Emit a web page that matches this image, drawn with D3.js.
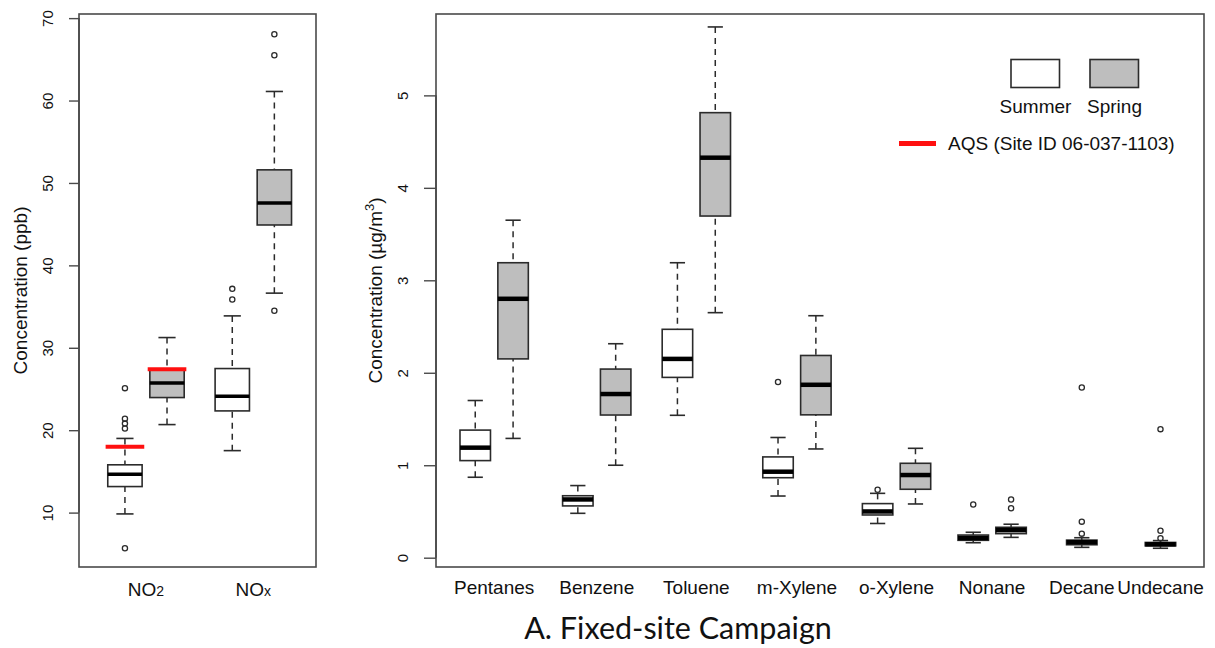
<!DOCTYPE html>
<html>
<head>
<meta charset="utf-8">
<script src="https://cdn.jsdelivr.net/npm/d3@7"></script>
<style>
  html, body { margin: 0; padding: 0; background: #ffffff; }
  svg { display: block; }
  text { font-family: "Liberation Sans", Arial, Helvetica, sans-serif; fill: #111; }
</style>
</head>
<body>
<script>
// ---------------- DATA ----------------
// Five-number summaries: [lower whisker, Q1, median, Q3, upper whisker]
const leftCategories = ["NO2", "NOx"];
const leftSummer = [
  [9.84, 13.16, 14.66, 15.8, 19.0],
  [17.52, 22.34, 24.13, 27.48, 33.87]
];
const leftSpring = [
  [20.68, 23.96, 25.74, 27.35, 31.24],
  [36.63, 44.9, 47.58, 51.59, 61.1]
];
const leftSummerOutliers = [[25.1, 21.4, 20.8, 20.2, 5.68], [37.15, 35.85]];
const leftSpringOutliers = [[], [68.04, 65.5, 34.5]];
const aqsSummer = [18.0, null];
const aqsSpring = [27.4, null];
const leftTicks = [10, 20, 30, 40, 50, 60, 70];

const vocCategories = ["Pentanes", "Benzene", "Toluene", "m-Xylene", "o-Xylene", "Nonane", "Decane", "Undecane"];
const vocSummer = [
  [0.87, 1.05, 1.19, 1.38, 1.70],
  [0.48, 0.56, 0.63, 0.67, 0.78],
  [1.54, 1.95, 2.15, 2.47, 3.19],
  [0.667, 0.865, 0.93, 1.09, 1.30],
  [0.37, 0.462, 0.50, 0.585, 0.696],
  [0.162, 0.188, 0.213, 0.245, 0.275],
  [0.112, 0.14, 0.168, 0.19, 0.216],
  [0.102, 0.128, 0.145, 0.165, 0.185]
];
const vocSpring = [
  [1.29, 2.15, 2.80, 3.19, 3.65],
  [1.0, 1.543, 1.77, 2.04, 2.314],
  [2.65, 3.695, 4.326, 4.813, 5.74],
  [1.176, 1.545, 1.87, 2.187, 2.617],
  [0.581, 0.74, 0.894, 1.021, 1.183],
  [0.22, 0.26, 0.30, 0.329, 0.362],
  null,
  null
];
const vocSummerOutliers = [[], [], [], [1.90], [0.735], [0.575], [1.84, 0.39, 0.26], [1.39, 0.292, 0.21]];
const vocSpringOutliers = [[], [], [], [], [], [0.63, 0.534], [], []];
const vocTicks = [0, 1, 2, 3, 4, 5];

const seriesNames = ["Summer", "Spring"];
const aqsLabel = "AQS (Site ID 06-037-1103)";
const panelTitle = "A. Fixed-site Campaign";

// ---------------- LAYOUT ----------------
const W = 1215, H = 648;
const fillSummer = "#ffffff", fillSpring = "#bebebe";
const lineCol = "#2b2b2b", frameCol = "#4a4a4a";
// boxplot "at" positions (axis units), like R's boxplot(at = ...)
const leftAt = [1, 2];
const vocAt = [1, 2.03, 3.03, 4.04, 5.04, 6, 6.9, 7.69];

const svg = d3.select("body").append("svg").attr("width", W).attr("height", H);
svg.append("rect").attr("width", W).attr("height", H).attr("fill", "#fff");

function drawBox(g, y, cx, halfW, s, fill, medW) {
  const capHalf = halfW * 0.5;
  g.append("line").attr("x1", cx).attr("x2", cx).attr("y1", y(s[4])).attr("y2", y(s[3]))
    .attr("stroke", lineCol).attr("stroke-width", 1.5).attr("stroke-dasharray", "6,5");
  g.append("line").attr("x1", cx).attr("x2", cx).attr("y1", y(s[0])).attr("y2", y(s[1]))
    .attr("stroke", lineCol).attr("stroke-width", 1.5).attr("stroke-dasharray", "6,5");
  [s[0], s[4]].forEach(v => {
    g.append("line").attr("x1", cx - capHalf).attr("x2", cx + capHalf).attr("y1", y(v)).attr("y2", y(v))
      .attr("stroke", lineCol).attr("stroke-width", 1.6);
  });
  g.append("rect").attr("x", cx - halfW).attr("width", 2 * halfW)
    .attr("y", y(s[3])).attr("height", Math.max(0.5, y(s[1]) - y(s[3])))
    .attr("fill", fill).attr("stroke", lineCol).attr("stroke-width", 1.6);
  g.append("line").attr("x1", cx - halfW).attr("x2", cx + halfW).attr("y1", y(s[2])).attr("y2", y(s[2]))
    .attr("stroke", "#000").attr("stroke-width", medW);
}
function drawOutliers(g, y, cx, vals) {
  vals.forEach(v => {
    g.append("circle").attr("cx", cx).attr("cy", y(v)).attr("r", 2.6)
      .attr("fill", "none").attr("stroke", lineCol).attr("stroke-width", 1.3);
  });
}

// ---------------- LEFT PANEL ----------------
const L = { x0: 79, x1: 316, y0: 14, y1: 567 };
const xL = d3.scaleLinear().domain([0.376, 2.584]).range([L.x0, L.x1]);
const yL = d3.scaleLinear().domain([3.4, 70.5]).range([L.y1, L.y0]);
const gL = svg.append("g");
const offL = 0.196, halfL = (xL(0.16) - xL(0));
const aqsHalf = xL(0.18) - xL(0);

leftCategories.forEach((c, i) => {
  const cs = xL(leftAt[i] - offL), cp = xL(leftAt[i] + offL);
  drawBox(gL, yL, cs, halfL, leftSummer[i], fillSummer, 3.5);
  drawOutliers(gL, yL, cs, leftSummerOutliers[i]);
  drawBox(gL, yL, cp, halfL, leftSpring[i], fillSpring, 3.5);
  drawOutliers(gL, yL, cp, leftSpringOutliers[i]);
  if (aqsSummer[i] != null) {
    gL.append("line").attr("x1", cs - aqsHalf).attr("x2", cs + aqsHalf)
      .attr("y1", yL(aqsSummer[i])).attr("y2", yL(aqsSummer[i]))
      .attr("stroke", "#ff1010").attr("stroke-width", 4);
  }
  if (aqsSpring[i] != null) {
    gL.append("line").attr("x1", cp - aqsHalf).attr("x2", cp + aqsHalf)
      .attr("y1", yL(aqsSpring[i])).attr("y2", yL(aqsSpring[i]))
      .attr("stroke", "#ff1010").attr("stroke-width", 4);
  }
  const t = gL.append("text").attr("x", xL(leftAt[i])).attr("y", 596)
    .attr("text-anchor", "middle").attr("font-size", 19);
  t.append("tspan").text(c.slice(0, 2));
  t.append("tspan").attr("font-size", 14).text(c.slice(2));
});

gL.append("rect").attr("x", L.x0).attr("y", L.y0).attr("width", L.x1 - L.x0).attr("height", L.y1 - L.y0)
  .attr("fill", "none").attr("stroke", frameCol).attr("stroke-width", 1.6);

const axL = gL.append("g").attr("transform", `translate(${L.x0},0)`)
  .call(d3.axisLeft(yL).tickValues(leftTicks).tickSize(10).tickPadding(6).tickFormat(d3.format("d")));
axL.select(".domain").attr("stroke", frameCol).attr("stroke-width", 1.6).attr("d", `M0,${yL(10)}V${yL(70)}`);
axL.selectAll(".tick line").attr("stroke", frameCol).attr("stroke-width", 1.4);
axL.selectAll(".tick text")
  .attr("font-size", 15).attr("font-family", "Liberation Sans, Arial, sans-serif").attr("fill", "#111")
  .attr("text-anchor", "middle").attr("dy", null)
  .attr("x", 0).attr("y", -26).attr("transform", "rotate(-90)");

gL.append("text").attr("transform", `translate(27,${(L.y0 + L.y1) / 2}) rotate(-90)`)
  .attr("text-anchor", "middle").attr("font-size", 19).text("Concentration (ppb)");

// ---------------- RIGHT PANEL ----------------
const R = { x0: 436, x1: 1204, y0: 14, y1: 567 };
const xR = d3.scaleLinear().domain([0.416, 8.127]).range([R.x0, R.x1]);
const yR = d3.scaleLinear().domain([-0.1006, 5.88]).range([R.y1, R.y0]);
const gR = svg.append("g");
const offR = 0.19, halfR = xR(0.153) - xR(0);

vocCategories.forEach((c, i) => {
  const both = vocSpring[i] != null;
  const cs = both ? xR(vocAt[i] - offR) : xR(vocAt[i]);
  drawBox(gR, yR, cs, halfR, vocSummer[i], fillSummer, 4.5);
  drawOutliers(gR, yR, cs, vocSummerOutliers[i]);
  if (both) {
    const cp = xR(vocAt[i] + offR);
    drawBox(gR, yR, cp, halfR, vocSpring[i], fillSpring, 4.5);
    drawOutliers(gR, yR, cp, vocSpringOutliers[i]);
  }
  gR.append("text").attr("x", xR(vocAt[i])).attr("y", 594)
    .attr("text-anchor", "middle").attr("font-size", 19).text(c);
});

gR.append("rect").attr("x", R.x0).attr("y", R.y0).attr("width", R.x1 - R.x0).attr("height", R.y1 - R.y0)
  .attr("fill", "none").attr("stroke", frameCol).attr("stroke-width", 1.6);

const axR = gR.append("g").attr("transform", `translate(${R.x0},0)`)
  .call(d3.axisLeft(yR).tickValues(vocTicks).tickSize(12).tickPadding(6).tickFormat(d3.format("d")));
axR.select(".domain").attr("stroke", frameCol).attr("stroke-width", 1.6).attr("d", `M0,${yR(0)}V${yR(5)}`);
axR.selectAll(".tick line").attr("stroke", frameCol).attr("stroke-width", 1.4);
axR.selectAll(".tick text")
  .attr("font-size", 15).attr("font-family", "Liberation Sans, Arial, sans-serif").attr("fill", "#111")
  .attr("text-anchor", "middle").attr("dy", null)
  .attr("x", 0).attr("y", -28).attr("transform", "rotate(-90)");

const yTitle = gR.append("text").attr("transform", `translate(382,${(R.y0 + R.y1) / 2}) rotate(-90)`)
  .attr("text-anchor", "middle").attr("font-size", 19);
yTitle.append("tspan").text("Concentration (µg/m");
yTitle.append("tspan").attr("font-size", 13).attr("dy", -8).text("3");
yTitle.append("tspan").attr("dy", 8).text(")");

// ---------------- LEGEND ----------------
const lg = svg.append("g");
const legendFills = [fillSummer, fillSpring];
const legendX = [1011, 1090];
seriesNames.forEach((n, i) => {
  lg.append("rect").attr("x", legendX[i]).attr("y", 59.5).attr("width", 48.5).attr("height", 28)
    .attr("fill", legendFills[i]).attr("stroke", lineCol).attr("stroke-width", 1.6);
  lg.append("text").attr("x", legendX[i] + 24.5).attr("y", 113).attr("text-anchor", "middle")
    .attr("font-size", 19).text(n);
});
lg.append("line").attr("x1", 899).attr("x2", 936).attr("y1", 143.5).attr("y2", 143.5)
  .attr("stroke", "#ff1010").attr("stroke-width", 5);
lg.append("text").attr("x", 948).attr("y", 149.5).attr("font-size", 19).text(aqsLabel);

// ---------------- TITLE ----------------
svg.append("text").attr("x", 678).attr("y", 639).attr("text-anchor", "middle")
  .style("font-family", "Lato, 'Open Sans', sans-serif").attr("font-size", 30.5).attr("fill", "#111")
  .text(panelTitle);
</script>
</body>
</html>
